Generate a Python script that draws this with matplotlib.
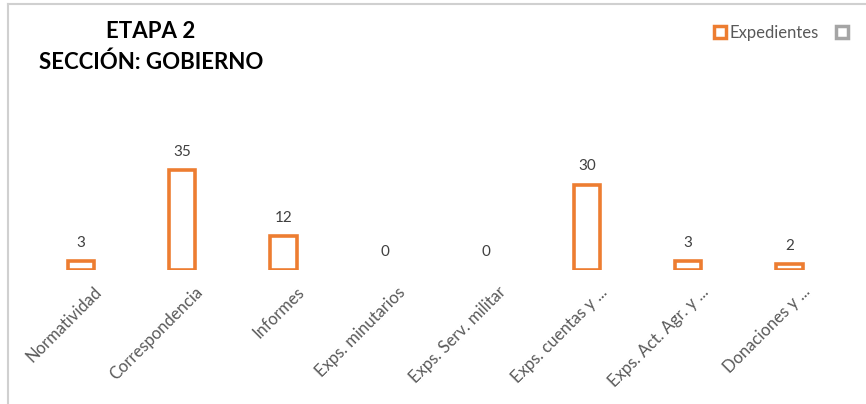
import matplotlib.pyplot as plt
from matplotlib.patches import Patch
from matplotlib.lines import Line2D
import numpy as np

# chart data
categorias = ['Normatividad', 'Correspondencia', 'Informes', 'Exps. minutarios',
              'Exps. Serv. militar', 'Exps. cuentas y ...', 'Exps. Act. Agr. y ...',
              'Donaciones y ...']
expedientes = [3, 35, 12, 0, 0, 30, 3, 2]

naranja = '#ED7D31'
gris = '#A5A5A5'
texto = '#595959'

plt.rcParams['font.family'] = ['Lato', 'DejaVu Sans']

fig = plt.figure(figsize=(8.66, 4.04), dpi=100)
ax = fig.add_axes([30.4 / 866, (404 - 270) / 404, 809.6 / 866, 114 / 404])

x = np.arange(len(categorias))
bars = ax.bar(x, expedientes, width=0.26, facecolor='white', edgecolor=naranja, linewidth=2.6)
for b, v in zip(bars, expedientes):
    if v == 0:
        b.set_visible(False)

for xi, v in zip(x, expedientes):
    ax.annotate(str(v), (xi, v), xytext=(0, 8), textcoords='offset points',
                ha='center', va='bottom', fontsize=11, color='#404040')

# category labels, rotated like the Excel axis
for xi, cat in zip(x, categorias):
    ax.annotate(cat, (xi, 0), xytext=(13, -14), textcoords='offset points',
                rotation=45, rotation_mode='anchor', ha='right', va='center',
                fontsize=12, color=texto, annotation_clip=False)

ax.set_xlim(-0.5, len(categorias) - 0.5)
ax.set_ylim(0, 40)
ax.set_xticks([])
ax.set_yticks([])
for s in ax.spines.values():
    s.set_visible(False)

# title
fig.text(151 / 866, 1 - 32 / 404, 'ETAPA 2', ha='center', va='center',
         fontsize=16, fontweight='bold', color='black')
fig.text(151 / 866, 1 - 62 / 404, 'SECCIÓN: GOBIERNO', ha='center', va='center',
         fontsize=16, fontweight='bold', color='black')

# legend
handles = [Patch(facecolor='white', edgecolor=naranja, linewidth=2.5),
           Patch(facecolor='white', edgecolor=gris, linewidth=2.5)]
fig.legend(handles, ['Expedientes', ''], loc='upper right', bbox_to_anchor=(858 / 866, 1 - 18 / 404),
           ncol=2, frameon=False, fontsize=12, handlelength=0.75, handleheight=0.75,
           handletextpad=0.2, columnspacing=1.0, labelcolor=texto, borderaxespad=0)

# chart border
fig.add_artist(Line2D([8 / 866, 8 / 866], [0, 1 - 4 / 404], transform=fig.transFigure,
                      color='#D0D0D0', linewidth=1.5))
fig.add_artist(Line2D([8 / 866, 1], [1 - 4 / 404, 1 - 4 / 404], transform=fig.transFigure,
                      color='#D0D0D0', linewidth=1.5))

fig.savefig('out.png', dpi=100)
